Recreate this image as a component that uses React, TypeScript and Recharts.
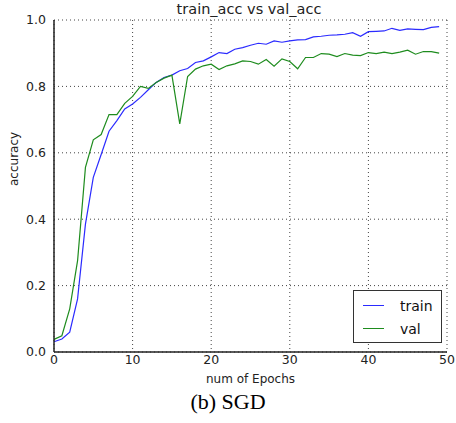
import React from "react";
import {
  CartesianGrid,
  Line,
  LineChart,
  XAxis,
  YAxis,
} from "recharts";

// accuracy per epoch
const epochs = Array.from({ length: 50 }, (_, i) => i);

const trainAcc = [
  0.031, 0.039, 0.06, 0.16, 0.385, 0.526, 0.595, 0.665, 0.697, 0.732,
  0.747, 0.767, 0.79, 0.812, 0.827, 0.834, 0.847, 0.854, 0.872, 0.877,
  0.889, 0.902, 0.899, 0.912, 0.917, 0.924, 0.93, 0.927, 0.937, 0.933,
  0.937, 0.94, 0.941, 0.949, 0.951, 0.954, 0.955, 0.957, 0.962, 0.951,
  0.965, 0.966, 0.967, 0.975, 0.969, 0.973, 0.972, 0.971, 0.978, 0.98,
];

const valAcc = [
  0.038, 0.049, 0.13, 0.275, 0.556, 0.639, 0.655, 0.715, 0.715, 0.749,
  0.77, 0.8, 0.794, 0.812, 0.825, 0.834, 0.687, 0.83, 0.852, 0.862,
  0.867, 0.851, 0.862, 0.868, 0.877, 0.875, 0.867, 0.881, 0.861, 0.883,
  0.875, 0.853, 0.887, 0.887, 0.899, 0.897, 0.89, 0.899, 0.894, 0.893,
  0.902, 0.899, 0.903, 0.899, 0.903, 0.909, 0.897, 0.905, 0.905, 0.9,
];

const xTicks = [0, 10, 20, 30, 40, 50];
const yTicks = [0, 0.2, 0.4, 0.6, 0.8, 1.0];

const data = epochs.map((e, i) => ({
  epoch: e,
  train: trainAcc[i],
  val: valAcc[i],
}));

const FONT = "'DejaVu Sans', sans-serif";
const BLUE = "#2b2bff";
const GREEN = "#1e8c1e";

const series = [
  { name: "train", color: BLUE },
  { name: "val", color: GREEN },
];

const LegendBox = () => (
  <div
    style={{
      position: "absolute",
      left: 353,
      top: 290,
      border: "1px solid #333",
      background: "#fff",
      width: 89,
      height: 53,
      boxSizing: "border-box",
      fontFamily: FONT,
      fontSize: 14,
      color: "#111",
      padding: "3px 0 0 9px",
    }}
  >
    {series.map((d) => (
      <div key={d.name} style={{ display: "flex", alignItems: "center", height: 23 }}>
        <span style={{ width: 21, height: 0, borderTop: `1.5px solid ${d.color}` }} />
        <span style={{ marginLeft: 16 }}>{d.name}</span>
      </div>
    ))}
  </div>
);

const noTick = () => <g />;

export default function App() {
  return (
    <div style={{ position: "absolute", left: 0, top: 0, width: 456, height: 423, background: "#fff" }}>
      <LineChart
        width={456}
        height={423}
        data={data}
        margin={{ top: 20, right: 9, left: 0, bottom: 0 }}
      >
        <CartesianGrid stroke="#444" strokeDasharray="1 3" horizontalValues={yTicks} verticalValues={xTicks} />
        <XAxis
          dataKey="epoch"
          type="number"
          domain={[0, 50]}
          ticks={xTicks}
          height={71}
          axisLine={{ stroke: "#222", strokeWidth: 1.5 }}
          tickLine={false}
          tickSize={3}
          tick={{ fontSize: 12.5, fill: "#222", fontFamily: FONT }}
          tickMargin={0}
          label={{ value: "num of Epochs", position: "insideTop", offset: 22, fontSize: 12, fill: "#222", fontFamily: FONT }}
        />
        <XAxis xAxisId="top" orientation="top" dataKey="epoch" type="number" domain={[0, 50]} ticks={xTicks} height={0} axisLine={{ stroke: "#222", strokeWidth: 1.5 }} tickLine={false} tick={noTick} />
        <YAxis
          type="number"
          domain={[0, 1]}
          ticks={yTicks}
          width={54}
          axisLine={{ stroke: "#222", strokeWidth: 1.5 }}
          tickLine={false}
          tickFormatter={(v: number) => v.toFixed(1)}
          tick={{ fontSize: 12.5, fill: "#222", fontFamily: FONT }}
          tickMargin={2}
          label={{ value: "accuracy", angle: -90, position: "insideLeft", offset: 14, fontSize: 12, fill: "#222", fontFamily: FONT }}
        />
        <YAxis yAxisId="right" orientation="right" domain={[0, 1]} ticks={yTicks} width={0} axisLine={{ stroke: "#222", strokeWidth: 1.5 }} tickLine={false} tick={noTick} />
        <Line type="linear" dataKey="train" stroke={BLUE} strokeWidth={1.2} dot={false} isAnimationActive={false} />
        <Line type="linear" dataKey="val" stroke={GREEN} strokeWidth={1.2} dot={false} isAnimationActive={false} />
        <text x={249} y={14} textAnchor="middle" fontFamily={FONT} fontSize={14.5} fill="#222">
          train_acc vs val_acc
        </text>
      </LineChart>
      <LegendBox />
      <div
        style={{
          position: "absolute",
          left: 0,
          width: 456,
          top: 389,
          textAlign: "center",
          fontFamily: "'Liberation Serif', serif",
          fontSize: 22,
          color: "#000",
          lineHeight: "26px",
        }}
      >
        (b) SGD
      </div>
    </div>
  );
}
